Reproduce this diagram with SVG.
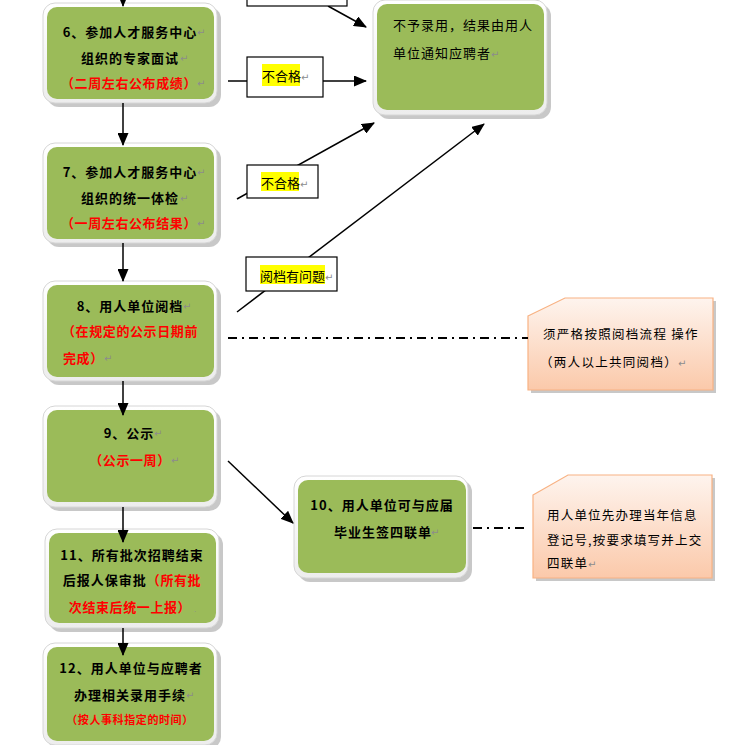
<svg xmlns="http://www.w3.org/2000/svg" width="753" height="745" viewBox="0 0 753 745">
<defs>
<marker id="ah" markerUnits="userSpaceOnUse" markerWidth="13" markerHeight="11" refX="12" refY="5.5" orient="auto"><path d="M0,0 L13,5.5 L0,11 z" fill="#000"/></marker>
<linearGradient id="peach" x1="0" y1="0" x2="0" y2="1"><stop offset="0" stop-color="#FEF4EE"/><stop offset="1" stop-color="#FBC9AA"/></linearGradient>
<linearGradient id="frameg" x1="0" y1="0" x2="0" y2="1"><stop offset="0" stop-color="#FFFFFF"/><stop offset="1" stop-color="#EDEDED"/></linearGradient>
</defs>
<style>
.sh{fill:#9a9a9a;opacity:.55}
.fr{fill:url(#frameg);stroke:#d6d6d6;stroke-width:1}
.gr{fill:#9BBB59}
.b{font-family:"Noto Sans CJK SC","Liberation Sans",sans-serif;font-size:13px;font-weight:bold;fill:#000;letter-spacing:1px}
.r{fill:#FF0000;letter-spacing:0.6px}
.n{font-family:"Noto Sans CJK SC","Liberation Sans",sans-serif;font-size:13px;fill:#000;letter-spacing:1px}
.pm{font-family:"DejaVu Sans",sans-serif;font-size:10px;fill:#8c8c8c;font-weight:normal;letter-spacing:0}
.ln{stroke:#000;stroke-width:1.5;fill:none}
.dd{stroke:#000;stroke-width:1.8;fill:none;stroke-dasharray:9,5,2,5}
.note{fill:url(#peach);stroke:#F8B283;stroke-width:1.2}
.lbl{fill:#fff;stroke:#000;stroke-width:1.2}
.hl{fill:#FFFF00}
.m{text-anchor:middle}
</style>

<g id="node-reject">
<rect class="sh" x="377" y="4" width="174" height="115" rx="12"/>
<rect class="fr" x="373" y="0" width="174" height="115" rx="12"/>
<rect class="gr" x="377" y="4" width="167" height="106" rx="10"/>
<text class="n" x="393" y="30">不予录用，结果由用人</text>
<text class="n" x="393" y="58">单位通知应聘者<tspan class="pm">↵</tspan></text>
</g>

<g id="node-6">
<rect class="sh" x="47" y="7" width="174" height="100" rx="12"/>
<rect class="fr" x="43" y="3" width="174" height="100" rx="12"/>
<rect class="gr" x="47" y="7" width="167" height="92" rx="10"/>
<text class="b m" x="130" y="37">6、参加人才服务中心</text><text class="pm" x="197" y="36">↵</text>
<text class="b m" x="130" y="63">组织的专家面试</text><text class="pm" x="180" y="62">↵</text>
<text class="b r m" x="129" y="88">（二周左右公布成绩）</text><text class="pm" x="197" y="87">↵</text>
</g>

<g id="node-7">
<rect class="sh" x="47" y="147" width="174" height="100" rx="12"/>
<rect class="fr" x="43" y="143" width="174" height="100" rx="12"/>
<rect class="gr" x="47" y="147" width="167" height="92" rx="10"/>
<text class="b m" x="130" y="177">7、参加人才服务中心</text><text class="pm" x="197" y="176">↵</text>
<text class="b m" x="130" y="203">组织的统一体检</text><text class="pm" x="180" y="202">↵</text>
<text class="b r m" x="129" y="228">（一周左右公布结果）</text><text class="pm" x="197" y="227">↵</text>
</g>

<g id="node-8">
<rect class="sh" x="47" y="285" width="174" height="100" rx="12"/>
<rect class="fr" x="43" y="281" width="174" height="100" rx="12"/>
<rect class="gr" x="47" y="285" width="167" height="92" rx="10"/>
<text class="b m" x="130" y="311">8、用人单位阅档</text><text class="pm" x="183" y="310">↵</text>
<text class="b r m" x="130" y="336">（在规定的公示日期前</text>
<text class="b r" x="63" y="363">完成）</text><text class="pm" x="104" y="362">↵</text>
</g>

<g id="node-9">
<rect class="sh" x="47" y="410" width="174" height="101" rx="12"/>
<rect class="fr" x="43" y="406" width="174" height="101" rx="12"/>
<rect class="gr" x="47" y="410" width="167" height="92" rx="10"/>
<text class="b m" x="129" y="438">9、公示</text><text class="pm" x="154" y="437">↵</text>
<text class="b r m" x="130" y="465">（公示一周）</text><text class="pm" x="171" y="464">↵</text>
</g>

<g id="node-10">
<rect class="sh" x="298" y="480" width="174" height="102" rx="12"/>
<rect class="fr" x="294" y="476" width="174" height="102" rx="12"/>
<rect class="gr" x="298" y="480" width="168" height="93" rx="10"/>
<text class="b m" x="382" y="510">10、用人单位可与应届</text>
<text class="b m" x="383" y="537">毕业生签四联单</text><text class="pm" x="431" y="536">↵</text>
</g>

<g id="node-11">
<rect class="sh" x="49" y="533" width="174" height="99" rx="12"/>
<rect class="fr" x="45" y="529" width="174" height="99" rx="12"/>
<rect class="gr" x="49" y="533" width="167" height="90" rx="10"/>
<text class="b m" x="132" y="560">11、所有批次招聘结束</text>
<text class="b m" x="132" y="585">后报人保审批<tspan class="r">（所有批</tspan></text>
<text class="b r m" x="130" y="612">次结束后统一上报）</text><text class="pm" x="194" y="612" style="font-size:7px">.</text>
</g>

<g id="node-12">
<rect class="sh" x="47" y="647" width="174" height="102" rx="12"/>
<rect class="fr" x="43" y="643" width="174" height="102" rx="12"/>
<rect class="gr" x="47" y="647" width="167" height="94" rx="10"/>
<text class="b m" x="131" y="673">12、用人单位与应聘者</text>
<text class="b m" x="130" y="700">办理相关录用手续</text><text class="pm" x="186" y="699">↵</text>
<text class="b r m" x="130" y="724" style="font-size:11px;letter-spacing:0.6px">（按人事科指定的时间）</text>
</g>

<g id="note-1">
<polygon class="sh" points="531,319 568,301 716,301 716,393 531,393"/>
<polygon class="note" points="528,316 565,298 713,298 713,390 528,390"/>
<text class="n" x="543" y="339" style="font-size:12.5px;letter-spacing:1.3px">须严格按照阅档流程 操作</text>
<text class="n" x="540" y="367" style="font-size:12.5px;letter-spacing:1.3px">（两人以上共同阅档）<tspan class="pm">↵</tspan></text>
</g>

<g id="note-2">
<polygon class="sh" points="536,498 571,478 715,478 715,581 536,581"/>
<polygon class="note" points="533,495 568,475 712,475 712,578 533,578"/>
<text class="n" x="547" y="520" style="font-size:12.5px;letter-spacing:1.2px">用人单位先办理当年信息</text>
<text class="n" x="547" y="545" style="font-size:12.5px;letter-spacing:1.2px">登记号,按要求填写并上交</text>
<text class="n" x="547" y="568" style="font-size:12.5px;letter-spacing:1.2px">四联单<tspan class="pm">↵</tspan></text>
</g>

<g id="connectors">
<line class="ln" x1="123" y1="-2" x2="123" y2="6" marker-end="url(#ah)"/>
<line class="ln" x1="123" y1="103" x2="123" y2="145" marker-end="url(#ah)"/>
<line class="ln" x1="123" y1="243" x2="123" y2="281" marker-end="url(#ah)"/>
<line class="ln" x1="123" y1="381" x2="123" y2="415" marker-end="url(#ah)"/>
<line class="ln" x1="123" y1="507" x2="123" y2="542" marker-end="url(#ah)"/>
<line class="ln" x1="123" y1="628" x2="123" y2="655" marker-end="url(#ah)"/>
<line class="ln" x1="328" y1="6" x2="366" y2="27" marker-end="url(#ah)"/>
<line class="ln" x1="228" y1="81" x2="247" y2="81"/>
<line class="ln" x1="323" y1="81" x2="366" y2="81" marker-end="url(#ah)"/>
<line class="ln" x1="237" y1="199" x2="374" y2="123" marker-end="url(#ah)"/>
<line class="ln" x1="237" y1="312" x2="484" y2="124" marker-end="url(#ah)"/>
<line class="ln" x1="228" y1="461" x2="293" y2="523" marker-end="url(#ah)"/>
<line class="dd" x1="228" y1="338" x2="528" y2="338"/>
<line class="dd" x1="473" y1="528" x2="525" y2="528"/>
</g>

<g id="top-box">
<rect class="lbl" x="247" y="-20" width="100" height="26"/>
</g>

<g id="label-1">
<rect class="lbl" x="247" y="57" width="76" height="40"/>
<rect class="hl" x="262" y="64" width="38" height="22"/>
<text class="n" x="262" y="81" style="letter-spacing:0">不合格<tspan class="pm">↵</tspan></text>
</g>

<g id="label-2">
<rect class="lbl" x="247" y="165" width="71" height="33"/>
<rect class="hl" x="261" y="172" width="38" height="19"/>
<text class="n" x="261" y="188" style="letter-spacing:0">不合格<tspan class="pm">↵</tspan></text>
</g>

<g id="label-3">
<rect class="lbl" x="246" y="257" width="91" height="34"/>
<rect class="hl" x="260" y="265" width="65" height="19"/>
<text class="n" x="260" y="281" style="letter-spacing:0">阅档有问题<tspan class="pm">↵</tspan></text>
</g>
</svg>
